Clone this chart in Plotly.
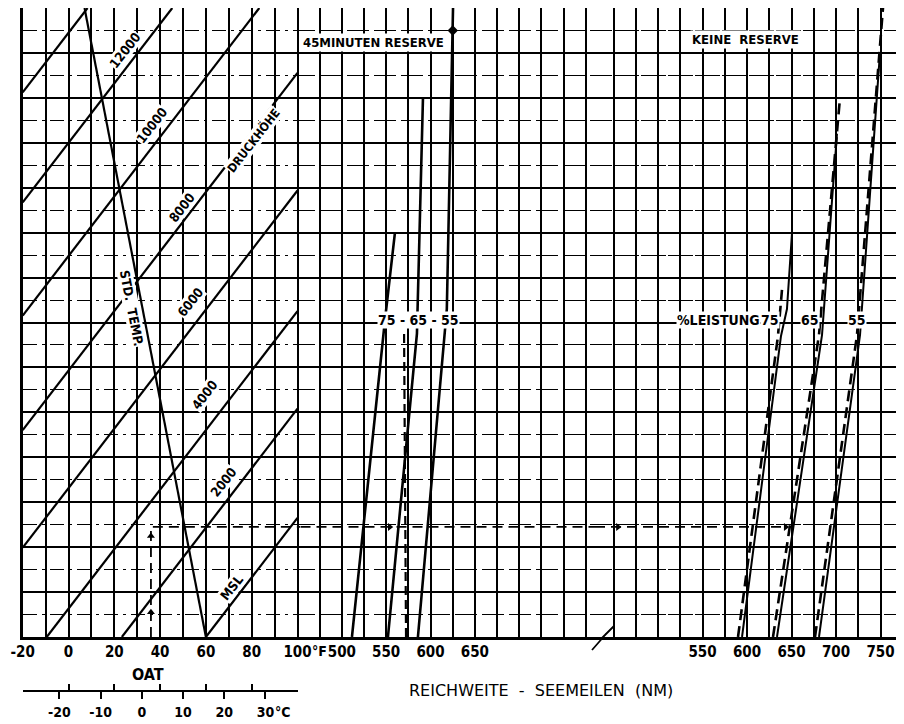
import plotly.graph_objects as go

# ---------------- data ----------------
oat_ticks_f = [-20, 0, 20, 40, 60, 80, 100]
oat_ticks_c = [-20, -10, 0, 10, 20, 30]
range_ticks_left = [500, 550, 600, 650]
range_ticks_right = [550, 600, 650, 700, 750]

# pressure altitude lines: OAT (deg F) where each line meets the chart base
press_alt_labels = ["MSL", "2000", "4000", "6000", "8000", "10000", "12000", ""]
press_alt_base_oat = [60, 23.3, -9.5, -50, -89.5, -128, -166, -203]
press_alt_slope = 0.1325  # reference-scale units per deg F
press_alt_label_oat = [71.4, 67.5, 59.6, 53.1, 49.7, 36.5, 24.7]
press_alt_label_ref = [2.2, 6.9, 10.8, 14.9, 19.1, 22.75, 26.1]

std_temp_oat = [60, 7]
std_temp_ref = [0, 28]

# range lines, 45 minutes reserve (NM vs reference scale)
res45_75_nm = [511.4, 548.6, 559.9]
res45_75_ref = [0, 14.1, 18.0]
res45_65_nm = [552.0, 584.7, 591.5]
res45_65_ref = [0, 13.5, 24.0]
res45_55_nm = [585.8, 616.2, 618.4, 625.4]
res45_55_ref = [0, 13.5, 14.6, 28.0]
res45_dash_nm = [572.4, 570.2]
res45_dash_ref = [0, 13.5]

# range lines, no reserve: solid and dashed variants
nores_75_nm = [594.4, 638.2, 644.9, 650.6]
nores_75_ref = [0, 13.4, 14.6, 18.0]
nores_75d_nm = [589.9, 634.8, 639.3]
nores_75d_ref = [0, 13.4, 15.45]
nores_65_nm = [633.7, 684.3, 701.1]
nores_65_ref = [0, 13.45, 22.4]
nores_65d_nm = [629.2, 680.9, 704.5]
nores_65d_ref = [0, 13.45, 24.0]
nores_55_nm = [680.9, 727.0, 749.4]
nores_55_ref = [0, 13.45, 26.0]
nores_55d_nm = [676.4, 723.6, 752.8]
nores_55d_ref = [0, 13.45, 28.0]

# worked example
ex_oat = 36
ex_ref = 4.9
ex_end_nm = 645

# ---------------- layout helpers ----------------
# the page body has an 8 px margin: figure is sized to fill the rest of the window
OFF = 8
W, H = 904 - OFF, 724 - OFF
L, R, T, B = 22.7, 898.0, 8.0, 637.0   # frame in window pixels
OAT_R = 300.5
BRK = 595.0
PX_PER_F = 2.29
PX_PER_NM_L = 0.8867
PX_PER_NM_R = 0.89


def fx(p):
    return (p - OFF) / W


def fy(p):
    return 1 - (p - OFF) / H


REF_MAX = 28
oat_lo = oat_ticks_f[0]
oat_hi = oat_ticks_f[-1]
oat_rng = [oat_lo, oat_lo + (OAT_R - L) / PX_PER_F]
rl_rng = [450 + 3 / PX_PER_NM_L, 450 + (BRK - 297.5) / PX_PER_NM_L]
rr_rng = [600 - (747 - BRK) / PX_PER_NM_R, 600 + (R - 747) / PX_PER_NM_R]
c_rng = [(oat_rng[0] - 32) / 1.8, (oat_rng[1] - 32) / 1.8]


def nm_r(p):
    return 600 + (p - 747) / PX_PER_NM_R


def nm_l(p):
    return 450 + (p - 297.5) / PX_PER_NM_L


FAM = "DejaVu Sans Condensed, Liberation Sans Narrow, Arial Narrow, sans-serif"
TICKFONT = dict(family=FAM, size=15, color="black", weight="bold")
LBLFONT = dict(family=FAM, size=13, color="black", weight="bold")

fig = go.Figure()
LINE = dict(color="black", width=2.2)

# pressure altitude lines
alt_x, alt_y = [], []
for b in press_alt_base_oat:
    t0 = max(oat_lo, b)
    t1 = min(oat_hi, b + REF_MAX / press_alt_slope)
    if t0 < t1:
        alt_x += [t0, t1, None]
        alt_y += [press_alt_slope * (t0 - b), press_alt_slope * (t1 - b), None]
fig.add_trace(go.Scatter(x=alt_x, y=alt_y, xaxis="x2", yaxis="y", mode="lines",
                         line=LINE, hoverinfo="skip"))
fig.add_trace(go.Scatter(x=std_temp_oat, y=std_temp_ref, xaxis="x2", yaxis="y", mode="lines",
                         line=LINE, hoverinfo="skip"))

# 45 min reserve lines
for xs, ys in [(res45_75_nm, res45_75_ref), (res45_65_nm, res45_65_ref), (res45_55_nm, res45_55_ref)]:
    fig.add_trace(go.Scatter(x=xs, y=ys, xaxis="x3", yaxis="y", mode="lines",
                             line=dict(color="black", width=2.6), hoverinfo="skip"))
fig.add_trace(go.Scatter(x=res45_dash_nm, y=res45_dash_ref, xaxis="x3", yaxis="y", mode="lines",
                         line=dict(color="black", width=2.2, dash="9px,5px"), hoverinfo="skip"))
fig.add_trace(go.Scatter(x=[res45_55_nm[-1] - 0.3], y=[27.0], xaxis="x3", yaxis="y", mode="markers",
                         marker=dict(symbol="diamond", size=8, color="black"), hoverinfo="skip"))

# no reserve lines
for xs, ys in [(nores_75_nm, nores_75_ref), (nores_65_nm, nores_65_ref), (nores_55_nm, nores_55_ref)]:
    fig.add_trace(go.Scatter(x=xs, y=ys, xaxis="x4", yaxis="y", mode="lines",
                             line=dict(color="black", width=2.0), hoverinfo="skip"))
for xs, ys in [(nores_75d_nm, nores_75d_ref), (nores_65d_nm, nores_65d_ref), (nores_55d_nm, nores_55d_ref)]:
    fig.add_trace(go.Scatter(x=xs, y=ys, xaxis="x4", yaxis="y", mode="lines",
                             line=dict(color="black", width=2.6, dash="11px,6px"), hoverinfo="skip"))

# worked example path
EX = dict(color="black", width=1.8, dash="10px,6px")
fig.add_trace(go.Scatter(x=[ex_oat, ex_oat, oat_rng[1]], y=[0, ex_ref, ex_ref], xaxis="x2", yaxis="y",
                         mode="lines", line=EX, hoverinfo="skip"))
fig.add_trace(go.Scatter(x=rl_rng, y=[ex_ref, ex_ref], xaxis="x3", yaxis="y",
                         mode="lines", line=EX, hoverinfo="skip"))
fig.add_trace(go.Scatter(x=[rr_rng[0], ex_end_nm], y=[ex_ref, ex_ref], xaxis="x4", yaxis="y",
                         mode="lines", line=EX, hoverinfo="skip"))
fig.add_trace(go.Scatter(x=[ex_oat, ex_oat], y=[1.1, 4.5], xaxis="x2", yaxis="y", mode="markers",
                         marker=dict(symbol="triangle-up", size=7, color="black"), hoverinfo="skip"))
fig.add_trace(go.Scatter(x=[554], y=[ex_ref], xaxis="x3", yaxis="y", mode="markers",
                         marker=dict(symbol="triangle-right", size=7, color="black"), hoverinfo="skip"))
fig.add_trace(go.Scatter(x=[455, ex_end_nm - 1.5], y=[ex_ref, ex_ref], xaxis="x4", yaxis="y", mode="markers",
                         marker=dict(symbol="triangle-right", size=7, color="black"), hoverinfo="skip"))

# dummy traces so that helper axes exist
for ax in ["x", "x5", "x6"]:
    fig.add_trace(go.Scatter(x=[0.5], y=[-5], xaxis=ax, yaxis="y", mode="markers",
                             marker=dict(opacity=0), hoverinfo="skip"))

ydom = [fy(B), fy(T)]
grid_common = dict(showgrid=True, gridcolor="black", gridwidth=2.1, zeroline=False,
                   showline=False, ticks="", tickfont=TICKFONT, ticklabelstandoff=4,
                   fixedrange=True, automargin=False)

grid_vals_l = [450 + 25 * i for i in range(14)]
grid_vals_r = [450 + 25 * i for i in range(13)]

fig.update_layout(
    template="none",
    width=W, height=H, margin=dict(l=0, r=0, t=0, b=0, autoexpand=False),
    paper_bgcolor="white", plot_bgcolor="rgba(0,0,0,0)", showlegend=False,
    xaxis=dict(domain=[fx(L), fx(R)], range=[0, 1], showgrid=False, zeroline=False,
               showline=True, mirror=True, linecolor="black", linewidth=2.6,
               showticklabels=False, ticks="", anchor="y", automargin=False, fixedrange=True),
    yaxis=dict(domain=ydom, range=[0, REF_MAX], anchor="x", showline=True, mirror=True,
               linecolor="black", linewidth=2.6, showticklabels=False, ticks="",
               zeroline=False, showgrid=True, dtick=2, tick0=0, gridcolor="black", gridwidth=2,
               automargin=False, fixedrange=True,
               minor=dict(dtick=1, tick0=0, showgrid=True, gridcolor="black", gridwidth=1.2,
                          griddash="14px,5px,3px,5px")),
    xaxis2=dict(domain=[fx(L), fx(OAT_R)], range=oat_rng, anchor="y",
                tickmode="array", tickvals=[-20 + 10 * i for i in range(13)],
                ticktext=[str(v) if v in oat_ticks_f else "" for v in [-20 + 10 * i for i in range(13)]],
                **grid_common),
    xaxis3=dict(domain=[fx(OAT_R), fx(BRK)], range=rl_rng, anchor="y",
                tickmode="array", tickvals=grid_vals_l,
                ticktext=[str(v) if v in range_ticks_left else "" for v in grid_vals_l],
                **grid_common),
    xaxis4=dict(domain=[fx(BRK), fx(R)], range=rr_rng, anchor="y",
                tickmode="array", tickvals=grid_vals_r,
                ticktext=[str(v) if v in range_ticks_right else "" for v in grid_vals_r],
                **grid_common),
    xaxis5=dict(domain=[fx(L), fx(297.5)], range=[c_rng[0], (100 - 32) / 1.8], anchor="free",
                position=fy(691), showgrid=False, zeroline=False, showline=True,
                linecolor="black", linewidth=1.6, automargin=False,
                ticks="outside", ticklen=7, tickwidth=1.6, tickcolor="black",
                tickmode="array", tickvals=oat_ticks_c,
                ticktext=[str(v) for v in oat_ticks_c], tickfont=dict(TICKFONT, size=14),
                ticklabelstandoff=1, fixedrange=True),
    xaxis6=dict(domain=[fx(L), fx(297.5)], range=[oat_lo, oat_hi], anchor="free",
                position=fy(691), overlaying="x5", showgrid=False, zeroline=False,
                showline=False, automargin=False,
                ticks="inside", ticklen=7, tickwidth=1.6, tickcolor="black",
                tickmode="array", tickvals=oat_ticks_f, showticklabels=False, fixedrange=True),
)

ann = []
# altitude labels
for lab, xo, yr in zip(press_alt_labels, press_alt_label_oat, press_alt_label_ref):
    if lab:
        ann.append(dict(x=xo, y=yr, xref="x2", yref="y", text=lab, showarrow=False,
                        textangle=-52, font=LBLFONT, bgcolor="white", borderpad=0))
ann.append(dict(x=80.7, y=22.1, xref="x2", yref="y", text="DRUCKHÖHE", showarrow=False,
                textangle=-52, font=dict(LBLFONT, size=12), bgcolor="white", borderpad=0))
ann.append(dict(x=27.3, y=14.65, xref="x2", yref="y", text="STD.  TEMP.", showarrow=False,
                textangle=79, font=LBLFONT, bgcolor="white", borderpad=0))
# panel headers
ann.append(dict(x=nm_l(373), y=26.45, xref="x3", yref="y", text="45MINUTEN RESERVE", showarrow=False,
                font=dict(LBLFONT, size=13), bgcolor="white", borderpad=1))
ann.append(dict(x=nm_r(745), y=26.6, xref="x4", yref="y", text="KEINE  RESERVE", showarrow=False,
                font=dict(LBLFONT, size=13), bgcolor="white", borderpad=1))
# power labels
ann.append(dict(x=nm_l(418), y=14.1, xref="x3", yref="y", text="75 - 65 - 55", showarrow=False,
                font=dict(LBLFONT, size=14), bgcolor="white", borderpad=0))
ann.append(dict(x=nm_r(761), y=14.1, xref="x4", yref="y", text="%LEISTUNG", showarrow=False,
                xanchor="right", font=dict(LBLFONT, size=14), bgcolor="white", borderpad=0))
for px_c, lab in [(770, "75"), (810, "65"), (857, "55")]:
    ann.append(dict(x=nm_r(px_c), y=14.1, xref="x4", yref="y", text=lab, showarrow=False,
                    font=dict(LBLFONT, size=14), bgcolor="white", borderpad=0))
# axis texts (paper positions)
PAPER = dict(xref="paper", yref="paper", showarrow=False, yanchor="middle")
ann.append(dict(x=fx(310), y=fy(651), text="°F", xanchor="left",
                font=dict(TICKFONT, size=14), **PAPER))
ann.append(dict(x=fx(273), y=fy(712), text="°C", xanchor="left",
                font=dict(TICKFONT, size=14), **PAPER))
ann.append(dict(x=fx(148), y=fy(674), text="OAT", xanchor="center",
                font=dict(TICKFONT, size=16), **PAPER))
ann.append(dict(x=fx(541), y=fy(690), text="REICHWEITE  -  SEEMEILEN  (NM)", xanchor="center",
                font=dict(family="DejaVu Sans, sans-serif", size=16, color="black"), **PAPER))
fig.update_layout(annotations=ann)

# axis break mark
fig.add_shape(type="path", xref="paper", yref="paper",
              path=f"M {fx(592)} {fy(650)} L {fx(606)} {fy(634)} L {fx(600)} {fy(640)} L {fx(614)} {fy(626)}",
              line=dict(color="black", width=1.8))

fig.write_html("out.html")
